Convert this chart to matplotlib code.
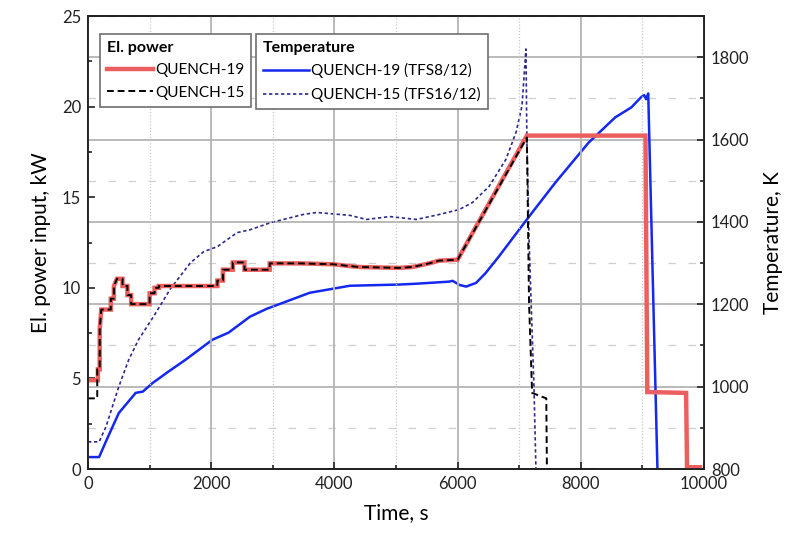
import matplotlib
matplotlib.use("Agg")
import matplotlib.pyplot as plt
from matplotlib.ticker import MultipleLocator

plt.rcParams['font.family'] = ['Lato', 'DejaVu Sans']

# ---- data ----
# QUENCH-19 electrical power (kW)
q19_p_t = [0, 160, 160, 190, 190, 215, 230, 370, 370, 420, 420, 470, 560, 560, 640, 640, 700, 700,
           1000, 1000, 1080, 1080, 1150, 1150, 2100, 2100, 2190, 2190, 2350, 2350, 2540, 2540, 2950,
           2950, 3440, 3980, 4250, 4400, 5050, 5270, 5540, 5700, 6000, 7125, 9050, 9080, 9710,
           9725, 9935]
q19_p = [4.9, 4.9, 5.5, 5.5, 7.7, 8.8, 8.8, 8.8, 9.4, 9.4, 10.1, 10.5, 10.5, 10.1, 10.1, 9.6, 9.6,
         9.1, 9.1, 9.7, 9.7, 10.0, 10.0, 10.1, 10.1, 10.4, 10.4, 11.0, 11.0, 11.4, 11.4, 11.0, 11.0,
         11.35, 11.35, 11.3, 11.2, 11.15, 11.1, 11.15, 11.35, 11.5, 11.55, 18.4, 18.4, 4.25, 4.2,
         0.1, 0.1]

# QUENCH-15 electrical power (kW)
q15_p_t = [0, 150, 150, 190, 190, 215, 230, 370, 370, 420, 420, 470, 560, 560, 640, 640, 700, 700,
           1000, 1000, 1080, 1080, 1150, 1150, 2100, 2100, 2190, 2190, 2350, 2350, 2540, 2540, 2950,
           2950, 3440, 3980, 4250, 4400, 5050, 5270, 5540, 5700, 6000, 7125, 7160, 7210, 7440,
           7450, 8250]
q15_p = [3.9, 3.9, 5.5, 5.5, 7.7, 8.8, 8.8, 8.8, 9.4, 9.4, 10.1, 10.5, 10.5, 10.1, 10.1, 9.6, 9.6,
         9.1, 9.1, 9.7, 9.7, 10.0, 10.0, 10.1, 10.1, 10.4, 10.4, 11.0, 11.0, 11.4, 11.4, 11.0, 11.0,
         11.35, 11.35, 11.3, 11.2, 11.15, 11.1, 11.15, 11.35, 11.5, 11.55, 18.3, 9.2, 4.2, 3.9,
         0.0, 0.0]

# QUENCH-19 temperature TFS8/12 (K)
q19_T_t = [0, 180, 300, 500, 775, 890, 1050, 1300, 1580, 2020, 2280, 2630, 2900, 3170, 3600, 4250,
           5060, 5330, 5860, 5920, 6030, 6140, 6300, 6450, 6670, 7160, 7590, 8130, 8560, 8820, 8980,
           9030, 9060, 9095, 9245, 9270]
q19_T = [829, 829, 870, 936, 985, 988, 1009, 1036, 1065, 1114, 1131, 1170, 1189, 1204, 1228, 1245,
         1248, 1250, 1255, 1257, 1247, 1243, 1252, 1275, 1316, 1413, 1496, 1593, 1654, 1678, 1703,
         1708, 1698, 1712, 798, 780]

# QUENCH-15 temperature TFS16/12 (K)
q15_T_t = [0, 180, 290, 500, 660, 820, 1050, 1340, 1664, 1880, 2100, 2420, 2630, 2960, 3490, 3710,
           4250, 4520, 4900, 5330, 5700, 6025, 6240, 6510, 6785, 6950, 7045, 7110, 7125, 7160,
           7240, 7275]
q15_T = [866, 866, 902, 1000, 1065, 1114, 1167, 1238, 1301, 1328, 1340, 1374, 1381, 1398, 1418,
         1423, 1416, 1406, 1413, 1406, 1418, 1430, 1447, 1486, 1552, 1618, 1681, 1820, 1600, 1357,
         1000, 780]

legend_power_title = "El. power"
legend_temp_title = "Temperature"
label_q19_p = "QUENCH-19"
label_q15_p = "QUENCH-15"
label_q19_T = "QUENCH-19 (TFS8/12)"
label_q15_T = "QUENCH-15 (TFS16/12)"

# ---- figure ----
fig = plt.figure(figsize=(7.9, 5.45), dpi=100)
ax = fig.add_axes([0.1114, 0.1394, 0.7797, 0.8312])
ax2 = ax.twinx()
ax.set_zorder(ax2.get_zorder() + 1)
ax.patch.set_visible(False)

red = '#ec5f5f'
blue = '#1428f0'
navy = '#2a2a8a'

# temperature lines (bottom layer)
lb1, = ax2.plot(q19_T_t, q19_T, color=blue, lw=1.8, label=label_q19_T)
lb2, = ax2.plot(q15_T_t, q15_T, color=navy, lw=1.2, linestyle=(0, (2, 1.6)), label=label_q15_T)

# power lines
lr1, = ax.plot(q19_p_t, q19_p, color=red, lw=3.2, label=label_q19_p, solid_joinstyle='miter')
lr2, = ax.plot(q15_p_t, q15_p, color='black', lw=1.4, linestyle=(0, (3.5, 2)), label=label_q15_p)

# axes limits
ax.set_xlim(0, 10000)
ax.set_ylim(0, 25)
ax2.set_ylim(800, 1900)

# ticks
ax.xaxis.set_major_locator(MultipleLocator(2000))
ax.xaxis.set_minor_locator(MultipleLocator(1000))
ax.yaxis.set_major_locator(MultipleLocator(5))
ax.yaxis.set_minor_locator(MultipleLocator(2.5))
ax2.yaxis.set_major_locator(MultipleLocator(200))
ax2.yaxis.set_minor_locator(MultipleLocator(100))

# grids
ax.grid(True, axis='x', which='major', color='#b4b4b4', lw=1.3)
ax.grid(True, axis='x', which='minor', color='#c8c8c8', lw=0.9, linestyle=(0, (1, 1.5)))
ax.set_axisbelow(True)
ax2.grid(True, axis='y', which='major', color='#b4b4b4', lw=1.3)
ax2.grid(True, axis='y', which='minor', color='#cfcfcf', lw=0.9, linestyle=(0, (6, 10)))

for a in (ax, ax2):
    a.tick_params(which='both', direction='in', width=1.2, labelsize=12, colors='#222222')
    a.tick_params(which='major', length=5)
    a.tick_params(which='minor', length=3)
    for s in a.spines.values():
        s.set_linewidth(1.3)
        s.set_color('#222222')

ax.tick_params(axis='x', pad=5)
ax.tick_params(axis='y', pad=5)
ax2.tick_params(axis='y', pad=5)

ax.set_xlabel("Time, s", fontsize=15, labelpad=8)
ax.set_ylabel("El. power input, kW", fontsize=15, labelpad=8)
ax2.set_ylabel("Temperature, K", fontsize=15, labelpad=10)

leg_kw = dict(loc='upper left', frameon=True, fancybox=False, framealpha=1, edgecolor='#6e6e6e',
              fontsize=11, borderaxespad=0, borderpad=0.45, handlelength=3.0, handletextpad=0.15,
              labelspacing=0.55, alignment='left',
              title_fontproperties={'weight': 'bold', 'size': 11.5})
leg1 = ax.legend(handles=[lr1, lr2], title=legend_power_title, bbox_to_anchor=(0.0195, 0.96), **leg_kw)
leg1.get_frame().set_linewidth(1.2)
ax.add_artist(leg1)
leg2 = ax.legend(handles=[lb1, lb2], title=legend_temp_title, bbox_to_anchor=(0.273, 0.96), **leg_kw)
leg2.get_frame().set_linewidth(1.2)

fig.savefig("out.png", dpi=100)
